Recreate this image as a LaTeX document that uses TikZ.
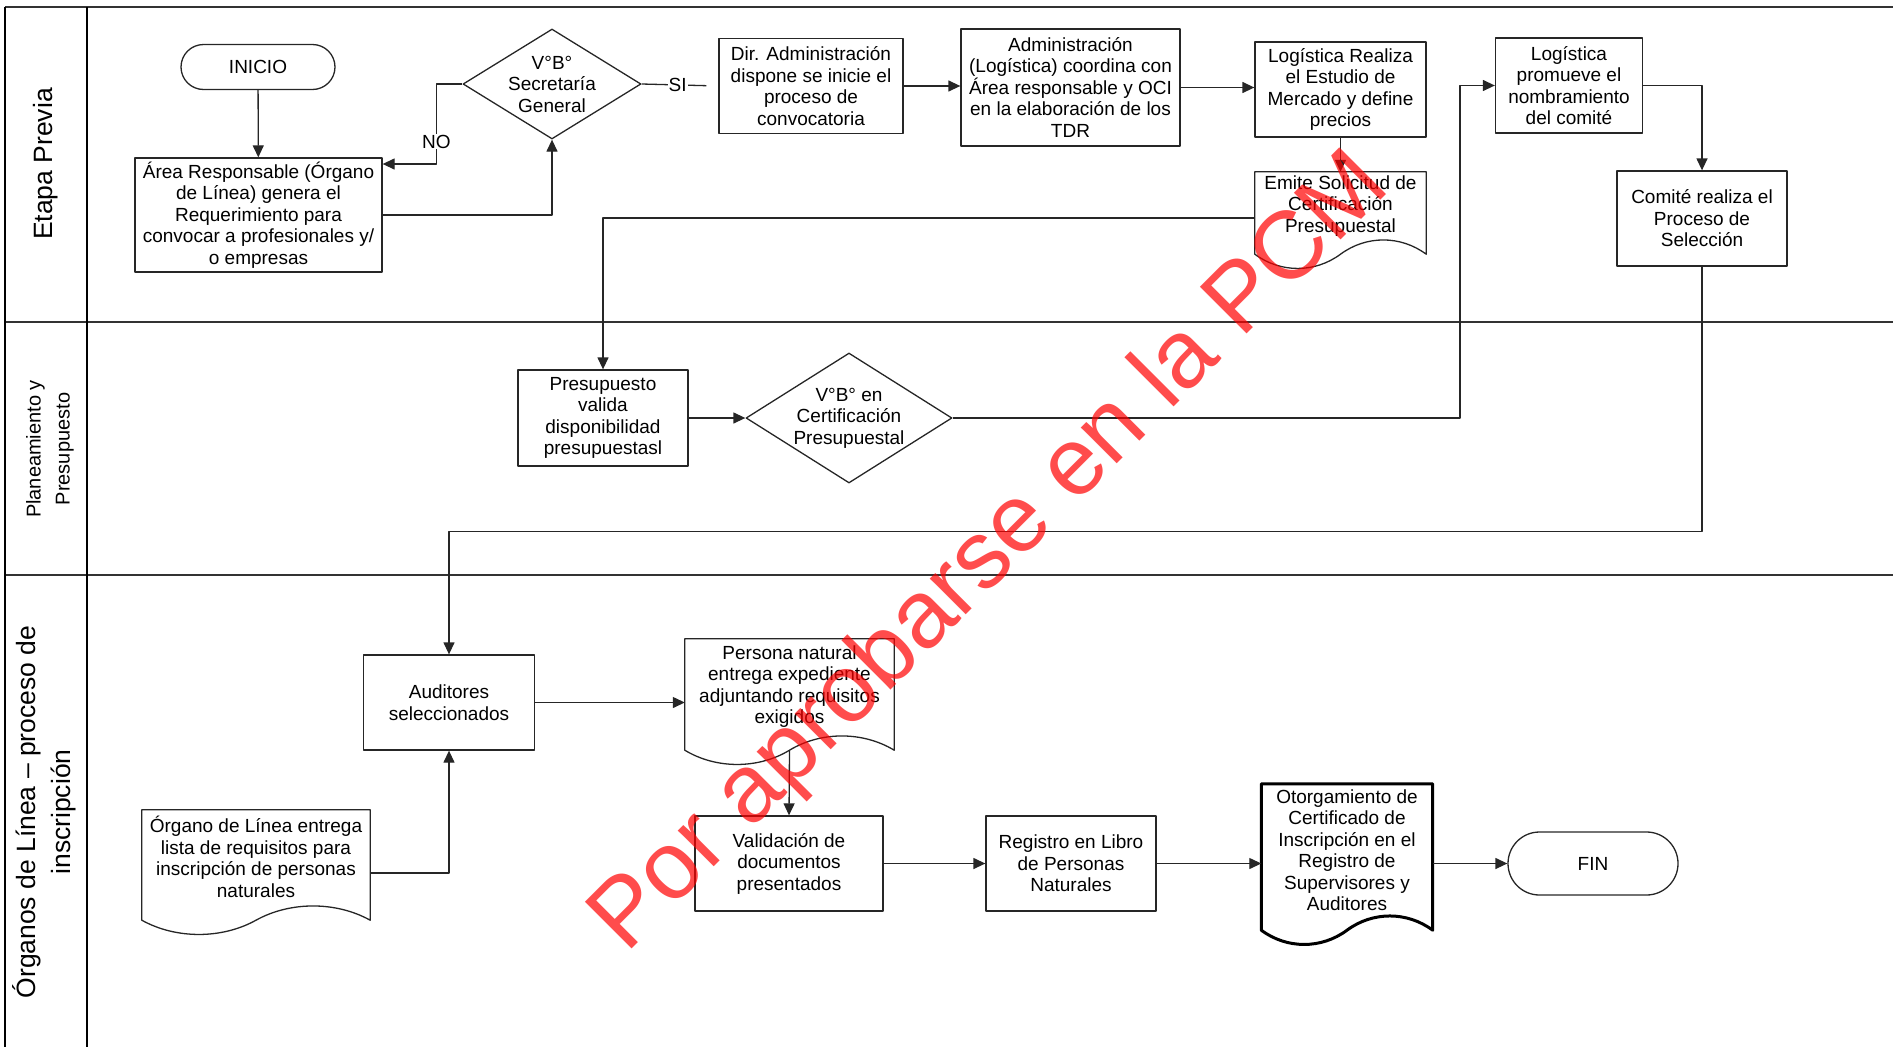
\documentclass[tikz,border=0pt]{standalone}
\usepackage{fontspec}
\setmainfont{Liberation Sans}
\usepackage{tikz}
\usetikzlibrary{shapes.geometric,shapes.misc,arrows.meta,calc}
\definecolor{lane}{RGB}{51,51,51}
\definecolor{sello}{RGB}{255,0,0}

\newcommand{\docwave}[4][]{%
\draw[flow,#1] ($(#2.south west)+(0,#4)$) -- (#2.north west) -- (#2.north east) -- ($(#2.south east)+(0,#4)$)
  .. controls +(-0.15*#3,-\wave) and +(0.15*#3,-\wave) .. ($(#2.south)+(0,#4)$)
  .. controls +(-0.15*#3,\wave) and +(0.15*#3,\wave) .. ($(#2.south west)+(0,#4)$) -- cycle;}

\begin{document}
\begin{tikzpicture}[x=1pt, y=-1pt, line join=round,
  font=\fontsize{19}{21.5}\selectfont,
  flow/.style={line width=1.3pt, draw=black!85},
  box/.style={flow, rectangle, align=center, inner sep=0pt},
  term/.style={flow, rounded rectangle, align=center, inner sep=0pt},
  decision/.style={flow, diamond, inner sep=0pt},
  doc/.style={rectangle, align=center, inner sep=0pt},
  arr/.style={flow, -{Triangle[length=12pt,width=11pt]}},
  tag/.style={fill=white, inner sep=1pt},
  lanetxt/.style={rotate=90, align=center}]
\useasboundingbox (0,0) rectangle (1893,1047);
\pgfmathsetmacro{\wave}{19}

\foreach \y in {7,322,575}
  \draw[line width=2pt, draw=lane] (5,\y) -- (1893,\y);
\draw[line width=1.5pt] (5,7) -- (5,1047);
\draw[line width=1.5pt] (87,7) -- (87,1047);

\node[lanetxt, font=\fontsize{26.5}{32}\selectfont] (lane1) at (46,164) {Etapa Previa};
\node[lanetxt, font=\fontsize{20}{29}\selectfont] (lane2) at (50,449) {Planeamiento y\\Presupuesto};
\node[lanetxt, font=\fontsize{26.5}{35}\selectfont] (lane3) at (44,812) {Órganos de Línea -- proceso de\\inscripción};

\node[term, minimum width=154pt, minimum height=45pt] (inicio) at (258,67) {INICIO};
\node[box, minimum width=247pt, minimum height=114pt] (reqarea) at (258.5,215)
  {Área Responsable (Órgano\\de Línea) genera el\\Requerimiento para\\convocar a profesionales y/\\o empresas};
\node[decision, minimum width=178pt, minimum height=110pt,
  label={[align=center]center:V°B°\\Secretaría\\General}] (vbsg) at (552,84) {};
\node[box, minimum width=184pt, minimum height=95pt] (dirad) at (811,86)
  {Dir. Administración\\dispone se inicie el\\proceso de\\convocatoria};
\node[box, minimum width=219pt, minimum height=117pt] (admlog) at (1070.5,87.5)
  {Administración\\(Logística) coordina con\\Área responsable y OCI\\en la elaboración de los\\TDR};
\node[box, minimum width=171pt, minimum height=95pt] (logest) at (1340.5,89.5)
  {Logística Realiza\\el Estudio de\\Mercado y define\\precios};
\node[doc, minimum width=171pt, minimum height=68pt] (emite) at (1340.5,206)
  {Emite Solicitud de\\Certificación\\Presupuestal};
\docwave{emite}{171}{14}
\node[box, minimum width=147pt, minimum height=95pt] (logprom) at (1569,85.5)
  {Logística\\promueve el\\nombramiento\\del comité};
\node[box, minimum width=170pt, minimum height=95pt] (comite) at (1702,218.5)
  {Comité realiza el\\Proceso de\\Selección};

\node[box, minimum width=170pt, minimum height=96pt] (presup) at (603,418)
  {Presupuesto\\valida\\disponibilidad\\presupuestasl};
\node[decision, minimum width=206pt, minimum height=130pt,
  label={[align=center]center:V°B° en\\Certificación\\Presupuestal}] (vbcert) at (849,418) {};

\node[box, minimum width=171pt, minimum height=95pt] (audit) at (449,702.5)
  {Auditores\\seleccionados};
\node[doc, minimum width=209pt, minimum height=95pt] (persona) at (789.5,686.5)
  {Persona natural\\entrega expediente\\adjuntando requisitos\\exigidos};
\docwave{persona}{209}{16}
\node[doc, minimum width=228pt, minimum height=94pt] (orgdoc) at (256,857)
  {Órgano de Línea entrega\\lista de requisitos para\\inscripción de personas\\naturales};
\docwave{orgdoc}{228}{16}
\node[box, minimum width=188pt, minimum height=95pt] (valid) at (789,863.5)
  {Validación de\\documentos\\presentados};
\node[box, minimum width=170pt, minimum height=95pt] (registro) at (1071,863.5)
  {Registro en Libro\\de Personas\\Naturales};
\node[doc, minimum width=171pt, minimum height=132pt] (otorg) at (1347,850)
  {Otorgamiento de\\Certificado de\\Inscripción en el\\Registro de\\Supervisores y\\Auditores};
\docwave[line width=3pt, draw=black]{otorg}{171}{14}
\node[term, minimum width=170pt, minimum height=63pt] (fin) at (1593,863.5) {FIN};

\draw[arr] (inicio) -- (reqarea);
\draw[arr] (reqarea.east) -| (vbsg.south);
\draw[arr] (vbsg.west) -- ++(-26,0) |- node[pos=0.36, tag] (lblno) {NO} ($(reqarea.east)+(0,-51)$);
\draw[flow, shorten >=12pt] (vbsg.east) -- node[pos=0.47, tag] (lblsi) {SI} (dirad.west);
\draw[arr] (dirad.east) -- (dirad.east -| admlog.west);
\draw[arr] (admlog.east) -- (admlog.east -| logest.west);
\draw[arr] (logest.south) -- (emite.north);
\draw[arr] ([yshift=-12pt]emite.west) -| (presup.north);
\draw[arr] (presup) -- (vbcert);
\draw[arr] (vbcert.east) -| ($(logprom.west)+(-35,0)$) -- (logprom.west);
\draw[arr] (logprom.east) -| (comite.north);
\draw[arr] (comite.south) -- ++(0,265) -| (audit.north);
\draw[arr] (audit.east) -- (audit.east -| persona.west);
\draw[arr] ($(persona.south)+(0,16)$) -- (valid.north);
\draw[arr] ([yshift=-16pt]orgdoc.east) -| (audit.south);
\draw[arr] (valid) -- (registro);
\draw[arr] (registro.east) -- (registro.east -| otorg.west);
\draw[arr] (otorg.east |- fin.west) -- (fin.west);

\node[rotate=45, anchor=base west, inner sep=0pt, text=sello, text opacity=0.7,
  font=\fontsize{96}{96}\selectfont] (sello) at (626,955) {Por aprobarse en la PCM};
\end{tikzpicture}
\end{document}
